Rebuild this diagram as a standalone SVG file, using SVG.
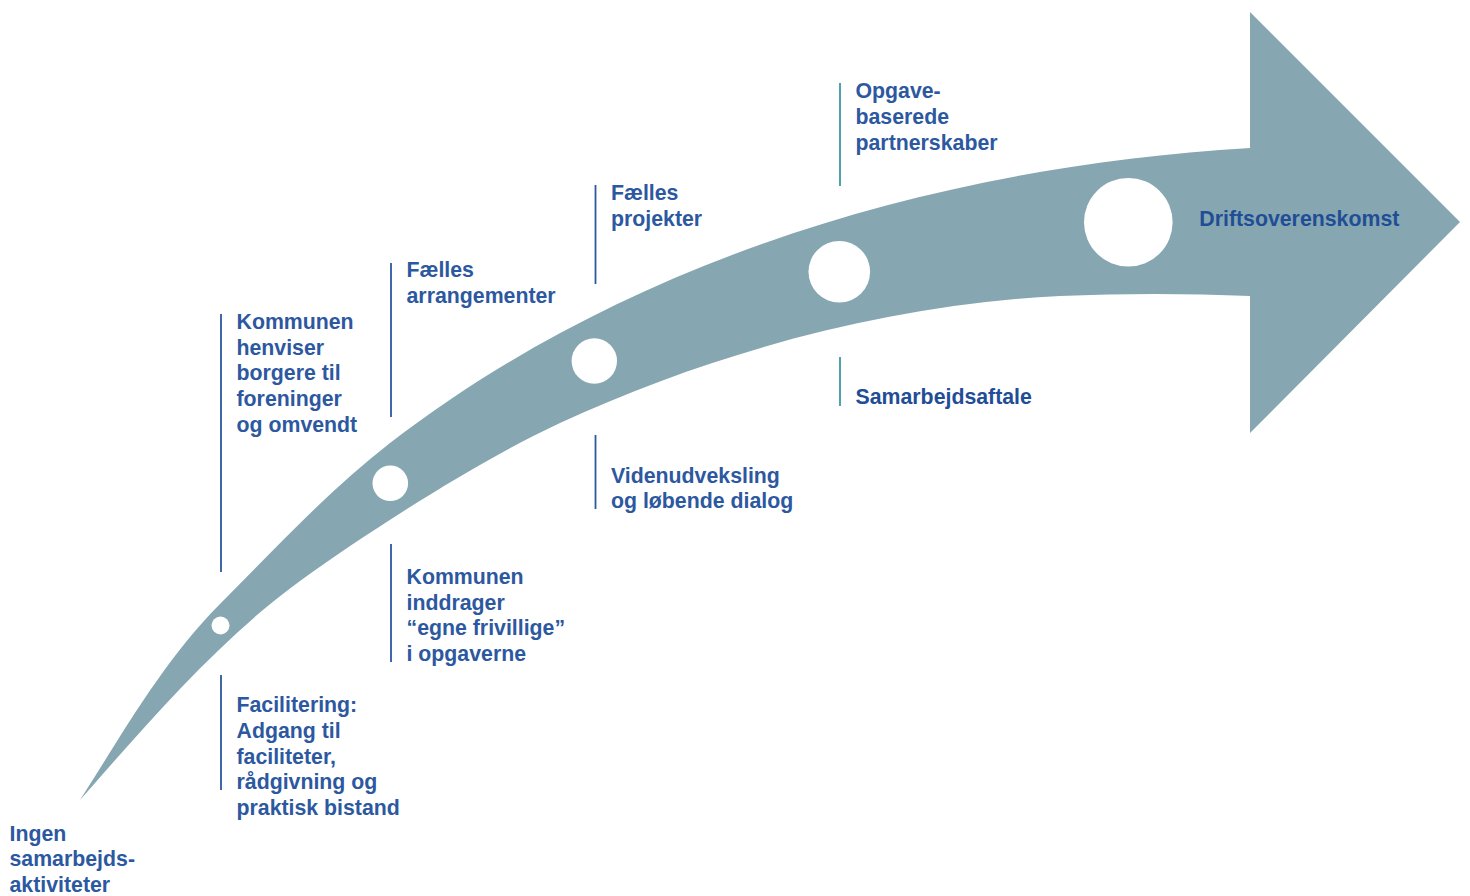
<svg xmlns="http://www.w3.org/2000/svg" width="1470" height="896" viewBox="0 0 1470 896">
<style>
.lbl{font-family:"Liberation Sans",Arial,sans-serif;font-weight:bold;font-size:21.3px;fill:#2c58a0}
.dark{fill:#1f4e96}
.ln{stroke:#2c58a0;stroke-width:1.8;fill:none}
.tl{stroke:#3e98a6;stroke-width:1.8;fill:none}
.dot{fill:#ffffff}
</style>
<rect width="1470" height="896" fill="#ffffff"/>
<g id="arrow">
<path fill="#86a7b1" d="M80,800 C123.2,732.8 163.4,660.6 220,604 C275.2,548.8 328.4,490.6 390,443 C603.3,278.3 900,169 1250,148 L1250,12 L1460,222 L1250,433 L1250,296 Q1155,292 1060,296 C890,304.5 714.4,351.6 560,423 C481,459.5 370.5,530 300,581 C219,639.5 146,725 80,800 Z"/>
<circle class="dot" cx="220.5" cy="625.5" r="9"/>
<circle class="dot" cx="390.3" cy="483.3" r="17.8"/>
<circle class="dot" cx="594.3" cy="361" r="22.7"/>
<circle class="dot" cx="839.3" cy="271.7" r="30.8"/>
<circle class="dot" cx="1128.3" cy="222.3" r="44.3"/>
</g>
<g id="connectors">
<line class="ln" x1="221" y1="314" x2="221" y2="572"/>
<line class="ln" x1="221" y1="675" x2="221" y2="790"/>
<line class="ln" x1="391" y1="263" x2="391" y2="417"/>
<line class="ln" x1="391" y1="544" x2="391" y2="662"/>
<line class="ln" x1="595.5" y1="185" x2="595.5" y2="284"/>
<line class="ln" x1="595.5" y1="435" x2="595.5" y2="509"/>
<line class="tl" x1="840" y1="83" x2="840" y2="186"/>
<line class="tl" x1="840" y1="357" x2="840" y2="406"/>
</g>
<g id="n-ingen">
<text class="lbl" x="9.5" y="840.7">Ingen</text>
<text class="lbl" x="9.5" y="866.3">samarbejds-</text>
<text class="lbl" x="9.5" y="892">aktiviteter</text>
</g>
<g id="n-facilitering">
<text class="lbl" x="236.5" y="712.3">Facilitering:</text>
<text class="lbl" x="236.5" y="738">Adgang til</text>
<text class="lbl" x="236.5" y="763.6">faciliteter,</text>
<text class="lbl" x="236.5" y="789.3">rådgivning og</text>
<text class="lbl" x="236.5" y="815">praktisk bistand</text>
</g>
<g id="n-henviser">
<text class="lbl" x="236.5" y="329">Kommunen</text>
<text class="lbl" x="236.5" y="354.7">henviser</text>
<text class="lbl" x="236.5" y="380.3">borgere til</text>
<text class="lbl" x="236.5" y="406">foreninger</text>
<text class="lbl" x="236.5" y="431.7">og omvendt</text>
</g>
<g id="n-arrangementer">
<text class="lbl" x="406.5" y="277">Fælles</text>
<text class="lbl" x="406.5" y="302.7">arrangementer</text>
</g>
<g id="n-inddrager">
<text class="lbl" x="406.5" y="584">Kommunen</text>
<text class="lbl" x="406.5" y="609.7">inddrager</text>
<text class="lbl" x="406.5" y="635.3">“egne frivillige”</text>
<text class="lbl" x="406.5" y="661">i opgaverne</text>
</g>
<g id="n-projekter">
<text class="lbl" x="611" y="200">Fælles</text>
<text class="lbl" x="611" y="225.7">projekter</text>
</g>
<g id="n-videnudveksling">
<text class="lbl" x="611" y="482.7">Videnudveksling</text>
<text class="lbl" x="611" y="508.3">og løbende dialog</text>
</g>
<g id="n-partnerskaber">
<text class="lbl" x="855.5" y="98.3">Opgave-</text>
<text class="lbl" x="855.5" y="124">baserede</text>
<text class="lbl" x="855.5" y="149.6">partnerskaber</text>
</g>
<g id="n-samarbejdsaftale">
<text class="lbl dark" x="855.5" y="404.3">Samarbejdsaftale</text>
</g>
<g id="n-driftsoverenskomst">
<text class="lbl dark" x="1199.3" y="225.7">Driftsoverenskomst</text>
</g>
</svg>
